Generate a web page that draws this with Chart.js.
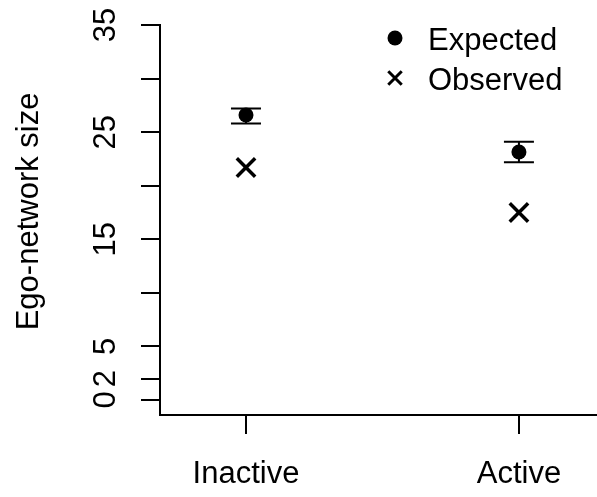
<!DOCTYPE html>
<html>
<head>
<meta charset="utf-8">
<script src="https://cdn.jsdelivr.net/npm/chart.js@4"></script>
<style>
  html, body { margin: 0; padding: 0; background: #fff; }
  #wrap { width: 597px; height: 497px; }
</style>
</head>
<body>
<div id="wrap"><canvas id="egoChart" width="597" height="497"></canvas></div>
<script>
const categories = ["Inactive", "Active"];
const expected = [26.6, 23.15];
const expectedLow = [25.8, 22.2];
const expectedHigh = [27.2, 24.1];
const observed = [21.7, 17.5];

const yTicks = [0, 2, 5, 10, 15, 20, 25, 30, 35];
const yLabelled = [0, 2, 5, 15, 25, 35];
const yTitle = "Ego-network size";

const FONT = "'Liberation Sans', Arial, sans-serif";

// error bars around the expected points
const errorBars = {
  id: "errorBars",
  afterDatasetsDraw(chart) {
    const { ctx, scales: { x, y } } = chart;
    ctx.save();
    ctx.strokeStyle = "#000";
    ctx.lineWidth = 2;
    expected.forEach((_, i) => {
      const px = x.getPixelForValue(i + 1);
      const lo = y.getPixelForValue(expectedLow[i]);
      const hi = y.getPixelForValue(expectedHigh[i]);
      ctx.beginPath();
      ctx.moveTo(px, lo); ctx.lineTo(px, hi);
      ctx.moveTo(px - 15, lo); ctx.lineTo(px + 15, lo);
      ctx.moveTo(px - 15, hi); ctx.lineTo(px + 15, hi);
      ctx.stroke();
    });
    ctx.restore();
  }
};

// rotated y labels, axis title and the in-plot legend
const annotations = {
  id: "annotations",
  afterDraw(chart) {
    const { ctx, scales: { y }, chartArea } = chart;
    ctx.save();
    ctx.fillStyle = "#000";
    ctx.font = "31px " + FONT;
    ctx.textAlign = "center";
    ctx.textBaseline = "alphabetic";

    y.ticks.forEach(t => {
      if (!yLabelled.includes(t.value)) return;
      ctx.save();
      ctx.translate(115, y.getPixelForValue(t.value));
      ctx.rotate(-Math.PI / 2);
      ctx.fillText(String(t.value), 0, 0);
      ctx.restore();
    });

    ctx.save();
    ctx.translate(38, y.getPixelForValue(17.6));
    ctx.rotate(-Math.PI / 2);
    ctx.fillText(yTitle, 0, 0);
    ctx.restore();

    const lx = chartArea.right - 202;
    chart.data.datasets.forEach((ds, i) => {
      const cy = 38 + i * 40;
      ctx.strokeStyle = "#000";
      ctx.fillStyle = "#000";
      ctx.lineWidth = ds.legendBorder;
      Chart.helpers.drawPoint(ctx, {
        pointStyle: ds.pointStyle,
        radius: ds.legendRadius,
        rotation: 0,
        borderWidth: ds.legendBorder
      }, lx, cy);
      ctx.textAlign = "left";
      ctx.fillText(ds.label, lx + 33, cy + 12);
    });
    ctx.restore();
  }
};

const ctx = document.getElementById("egoChart").getContext("2d");

new Chart(ctx, {
  type: "scatter",
  data: {
    datasets: [{
      label: "Expected",
      data: expected.map((v, i) => ({ x: i + 1, y: v })),
      pointStyle: "circle",
      pointRadius: 7.5,
      backgroundColor: "#000",
      borderColor: "#000",
      borderWidth: 0,
      legendRadius: 7.5,
      legendBorder: 0
    }, {
      label: "Observed",
      data: observed.map((v, i) => ({ x: i + 1, y: v })),
      pointStyle: "crossRot",
      pointRadius: 13,
      borderColor: "#000",
      borderWidth: 3.5,
      legendRadius: 9.5,
      legendBorder: 3
    }]
  },
  options: {
    responsive: false,
    animation: false,
    layout: { autoPadding: false, padding: { top: 25, left: 0, right: 0, bottom: 0 } },
    plugins: {
      legend: { display: false },
      tooltip: { enabled: false }
    },
    scales: {
      x: {
        type: "linear",
        min: 0.685,
        max: 2.286,
        afterBuildTicks: s => { s.ticks = categories.map((_, i) => ({ value: i + 1 })); },
        afterFit: s => {
          s.height = 82;
          s.paddingLeft = 0;
          s.paddingRight = 0;
        },
        ticks: {
          color: "#000",
          font: { family: FONT, size: 31 },
          padding: 22,
          maxRotation: 0,
          callback: v => categories[v - 1]
        },
        grid: { drawOnChartArea: false, tickLength: 19, lineWidth: 2, color: "#000" },
        border: { color: "#000", width: 2 }
      },
      y: {
        min: -1.4,
        max: 35,
        afterBuildTicks: s => { s.ticks = yTicks.map(v => ({ value: v })); },
        afterFit: s => { s.width = 160; },
        ticks: { display: false },
        grid: { drawOnChartArea: false, tickLength: 19, lineWidth: 2, color: "#000" },
        border: { color: "#000", width: 2 }
      }
    }
  },
  plugins: [errorBars, annotations]
});
</script>
</body>
</html>
